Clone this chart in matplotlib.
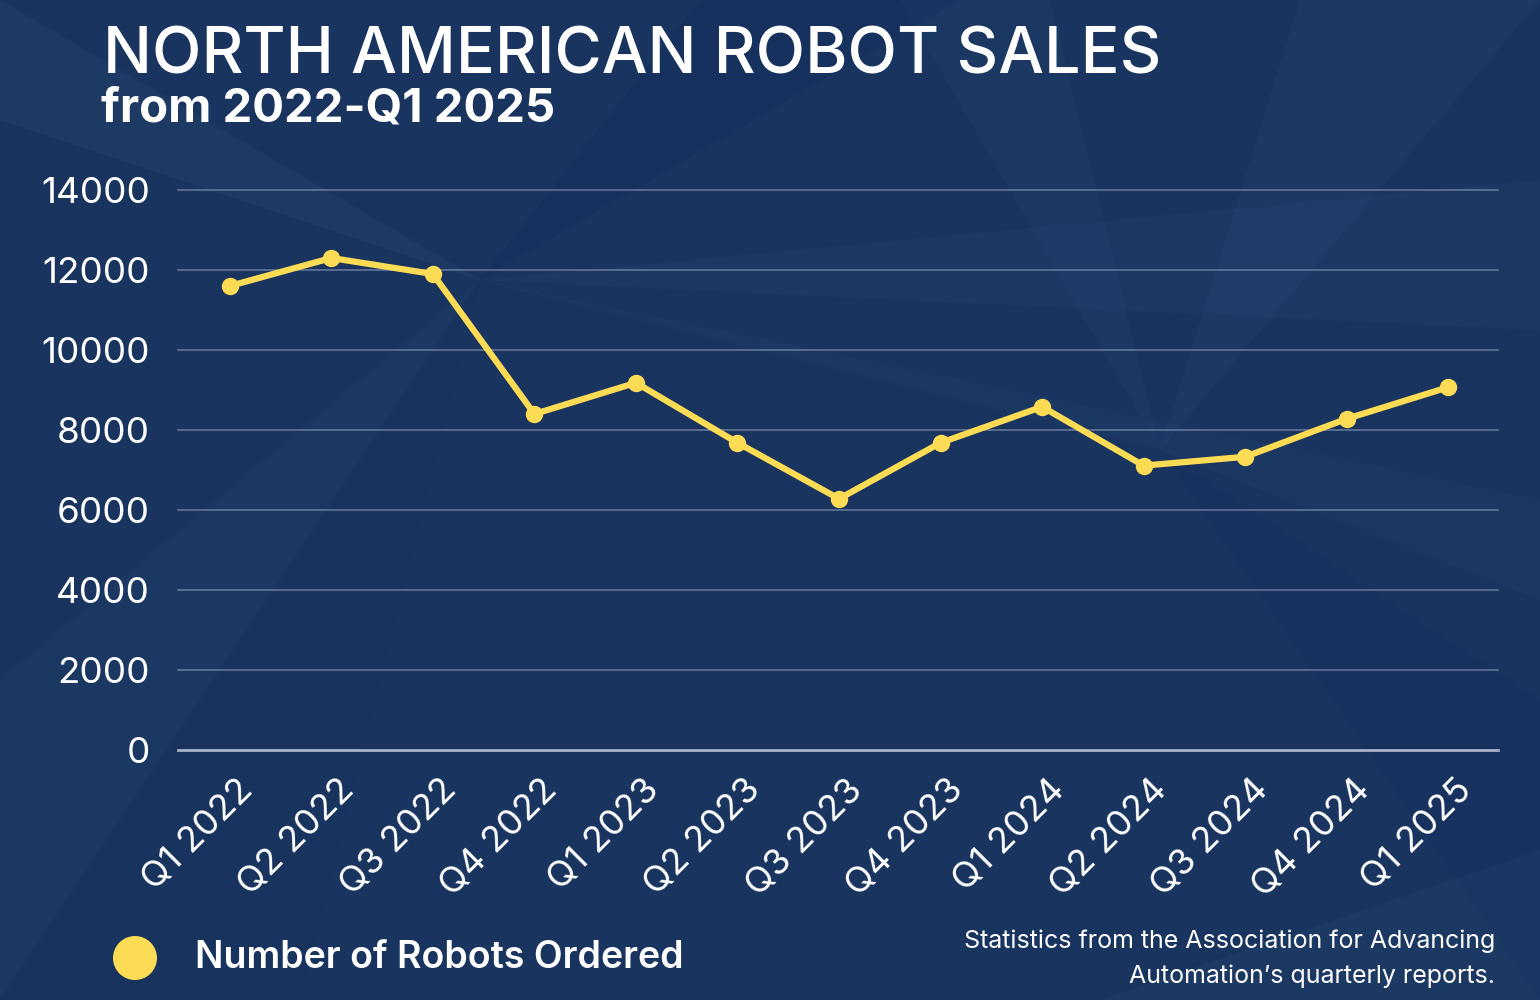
import matplotlib.pyplot as plt
from matplotlib.patches import Polygon, Ellipse
import matplotlib.transforms as mtransforms

# data
quarters = ['Q1 2022', 'Q2 2022', 'Q3 2022', 'Q4 2022',
            'Q1 2023', 'Q2 2023', 'Q3 2023', 'Q4 2023',
            'Q1 2024', 'Q2 2024', 'Q3 2024', 'Q4 2024', 'Q1 2025']
robots_ordered = [11600, 12300, 11900, 8400,
                  9180, 7680, 6280, 7680,
                  8580, 7110, 7330, 8280, 9070]
y_ticks = [0, 2000, 4000, 6000, 8000, 10000, 12000, 14000]

bg = '#19355f'
yellow = '#fcdc55'
font = 'Inter'

fig = plt.figure(figsize=(15.4, 10), dpi=100)
fig.patch.set_facecolor(bg)

# faint faceted background (pixel coords, y from top)
def facet(pts, color, alpha):
    p = Polygon([(x / 1540, 1 - y / 1000) for x, y in pts], closed=True,
                transform=fig.transFigure, facecolor=color, alpha=alpha,
                edgecolor='none', zorder=-5)
    fig.patches.append(p)

facet([(0, 0), (480, 280), (0, 120)], '#2a4a7a', 0.25)
facet([(0, 680), (480, 280), (0, 1000)], '#2a4a7a', 0.15)
facet([(480, 280), (960, 0), (700, 0)], '#10295a', 0.25)
facet([(480, 280), (1540, 330), (1540, 180)], '#2a4a7a', 0.2)
facet([(480, 280), (1160, 450), (1540, 600), (1540, 500)], '#2a4a7a', 0.15)
facet([(1160, 450), (1540, 0), (1300, 0)], '#2a4a7a', 0.18)
facet([(1160, 450), (900, 0), (1050, 0)], '#2a4a7a', 0.15)
facet([(1160, 450), (1540, 1000), (1540, 700)], '#10295a', 0.2)
facet([(480, 280), (0, 1000), (300, 1000)], '#10295a', 0.15)
facet([(1540, 850), (1100, 1000), (1540, 1000)], '#2a4a7a', 0.2)

ax = fig.add_axes([178 / 1540, 0.25, (1498 - 178) / 1540, 0.56])
ax.set_facecolor('none')
ax.set_zorder(2)

x = list(range(len(quarters)))
ax.plot(x, robots_ordered, color=yellow, linewidth=4.5, marker='o',
        markersize=11.5, solid_joinstyle='round', zorder=5, clip_on=False)

ax.set_xlim(-0.51, len(quarters) - 0.51)
ax.set_ylim(0, 14000)
ax.set_yticks(y_ticks)
ax.set_yticklabels([str(v) for v in y_ticks])
for v in y_ticks:
    if v == 0:
        ax.axhline(v, color='#a9b3c8', linewidth=2, zorder=2, clip_on=False)
    else:
        ax.axhline(v, color='#7d8cab', linewidth=1.1, alpha=0.8, zorder=2, clip_on=False)

for s in ax.spines.values():
    s.set_visible(False)
ax.tick_params(axis='both', length=0, colors='white')
ax.tick_params(axis='y', pad=20, labelsize=26.5)
ax.set_xticks(x)
ax.set_xticklabels(quarters, fontsize=26, fontfamily=font)
for lbl in ax.get_yticklabels():
    lbl.set_fontfamily(font)
    lbl.set_color('white')
offset = mtransforms.ScaledTranslation(18 / 100, -30 / 100, fig.dpi_scale_trans)
for lbl in ax.get_xticklabels():
    lbl.set_rotation(45)
    lbl.set_ha('right')
    lbl.set_va('center')
    lbl.set_rotation_mode('anchor')
    lbl.set_color('white')
    lbl.set_transform(lbl.get_transform() + offset)

# titles
fig.text(103 / 1540, 1 - 74 / 1000, 'NORTH AMERICAN ROBOT SALES', color='white',
         fontsize=46.5, fontfamily=font, fontweight='medium', va='baseline')
fig.text(101 / 1540, 1 - 121 / 1000, 'from 2022-Q1 2025', color='white',
         fontsize=34, fontfamily=font, fontweight='bold', va='baseline')

# legend
fig.patches.append(Ellipse((135 / 1540, 1 - 958 / 1000), 44 / 1540, 44 / 1000,
                           transform=fig.transFigure, facecolor=yellow,
                           edgecolor='none', zorder=3))
fig.text(195 / 1540, 1 - 958 / 1000, 'Number of Robots Ordered', color='white',
         fontsize=27, fontfamily=font, fontweight='semibold', va='center')

# source note
fig.text(1495 / 1540, 1 - 941 / 1000, 'Statistics from the Association for Advancing',
         color='white', fontsize=18, fontfamily=font,
         ha='right', va='center')
fig.text(1495 / 1540, 1 - 976 / 1000, 'Automation\u2019s quarterly reports.',
         color='white', fontsize=18, fontfamily=font,
         ha='right', va='center')

fig.savefig('out.png', dpi=100, facecolor=bg)
